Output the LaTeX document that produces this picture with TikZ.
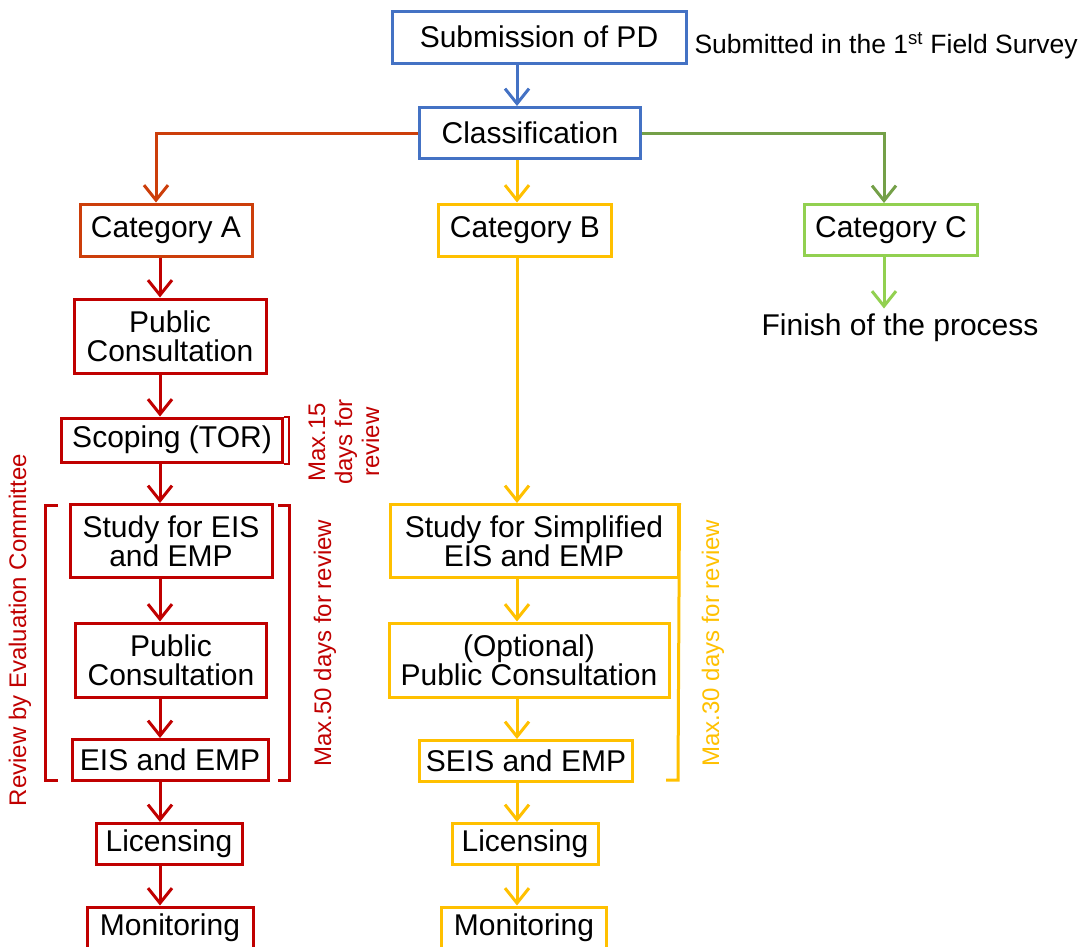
\documentclass[tikz,border=0pt]{standalone}
\usepackage{fontspec}
\setmainfont{Liberation Sans}
\usetikzlibrary{arrows.meta}

\definecolor{pdblue}{RGB}{68,114,196}
\definecolor{aorange}{RGB}{204,62,10}
\definecolor{ared}{RGB}{192,0,0}
\definecolor{byellow}{RGB}{255,192,0}
\definecolor{cgreen}{RGB}{146,208,80}
\definecolor{cdark}{RGB}{116,160,72}

\tikzset{
	box/.style={draw,line width=3pt,fill=white,inner sep=0pt,align=center,
		font=\fontsize{30}{29}\selectfont},
	flow/.style={line width=3pt,-{Straight Barb[length=15pt,width=24pt]}},
	note/.style={font=\fontsize{24}{27}\selectfont},
	brk/.style={line width=3pt},
}

\begin{document}
\begin{tikzpicture}[x=1pt,y=-1pt]
			\useasboundingbox (0,0) rectangle (1087,946);
			\coordinate (xa) at (156,0);
			\coordinate (xr) at (160,0);
			\coordinate (xb) at (517,0);
			\coordinate (xc) at (884,0);

			\node[box,draw=pdblue,minimum width=294,minimum height=52] (PD) at (539,37) {Submission of PD};
			\node[note,font=\fontsize{26.5}{28}\selectfont,anchor=west] (FS) at (691,46) {Submitted in the 1\textsuperscript{st} Field Survey};
			\node[box,draw=pdblue,minimum width=221,minimum height=51] (CL) at (530,133) {Classification};

			\node[box,draw=aorange,minimum width=172,minimum height=52] (A) at (166,230) {Category A};
			\node[box,draw=byellow,minimum width=173,minimum height=52] (B) at (525,230) {Category B};
			\node[box,draw=cgreen,minimum width=173,minimum height=51] (C) at (891,230) {Category C};
			\node[box,draw=none,fill=none,inner sep=4pt] (F) at (900,328) {Finish of the process};

			% category A
			\begin{scope}[every node/.style={box,draw=ared}]
				\node[minimum width=192,minimum height=74] (A1) at (170,336) {Public\\Consultation};
				\node[minimum width=221,minimum height=44] (A2) at (172,440) {Scoping (TOR)};
				\node[minimum width=202,minimum height=73] (A3) at (171,541) {Study for EIS\\and EMP};
				\node[minimum width=191,minimum height=74] (A4) at (171,660) {Public\\Consultation};
				\node[minimum width=196,minimum height=41] (A5) at (170,760) {EIS and EMP};
				\node[minimum width=146,minimum height=41] (A6) at (169,844) {Licensing};
				\node[minimum width=166,minimum height=42] (A7) at (170,928) {Monitoring};
			\end{scope}

			% category B
			\begin{scope}[every node/.style={box,draw=byellow}]
				\node[minimum width=288,minimum height=73] (B1) at (534,541) {Study for Simplified\\EIS and EMP};
				\node[minimum width=280,minimum height=74] (B2) at (529,660) {(Optional)\\Public Consultation};
				\node[minimum width=213,minimum height=41] (B3) at (526,761) {SEIS and EMP};
				\node[minimum width=146,minimum height=41] (B4) at (525,844) {Licensing};
				\node[minimum width=165,minimum height=42] (B5) at (524,928) {Monitoring};
			\end{scope}

			\draw[flow,pdblue] (PD.south -| xb) -- (CL.north -| xb);
			\draw[flow,aorange] (CL.west) -| (A.north -| xa);
			\draw[flow,byellow] (CL.south -| xb) -- (B.north -| xb);
			\draw[flow,cdark] (CL.east) -| (C.north -| xc);
			\draw[flow,cgreen] (C.south -| xc) -- (F.north -| xc);

			\foreach \u/\v in {A/A1,A1/A2,A2/A3,A3/A4,A4/A5,A5/A6,A6/A7}
				\draw[flow,ared] (\u.south -| xr) -- (\v.north -| xr);
			\foreach \u/\v in {B/B1,B1/B2,B2/B3,B3/B4,B4/B5}
				\draw[flow,byellow] (\u.south -| xb) -- (\v.north -| xb);

			% review periods
			\draw[brk,ared,line width=2pt] (A2.north east) -- ++(5,0) -- ([xshift=5pt]A2.south east) -- (A2.south east);
			\draw[brk,ared] (58,505) -- (45,505) -- (45,780) -- (58,780);
			\draw[brk,ared] (278,505) -- (289,505) -- (289,780) -- (278,780);
			\draw[brk,byellow] (B1.north east) -- (678,780) -- (666,780);

			\node[note,text=ared,rotate=90] (R) at (20,630) {Review by Evaluation Committee};
			\node[note,text=ared,rotate=90,align=center] (M15) at (344,442) {Max.15\\days for\\review};
			\node[note,text=ared,rotate=90] (M50) at (325,643) {Max.50 days for review};
			\node[note,text=byellow,rotate=90] (M30) at (713,643) {Max.30 days for review};
		\end{tikzpicture}
\end{document}
